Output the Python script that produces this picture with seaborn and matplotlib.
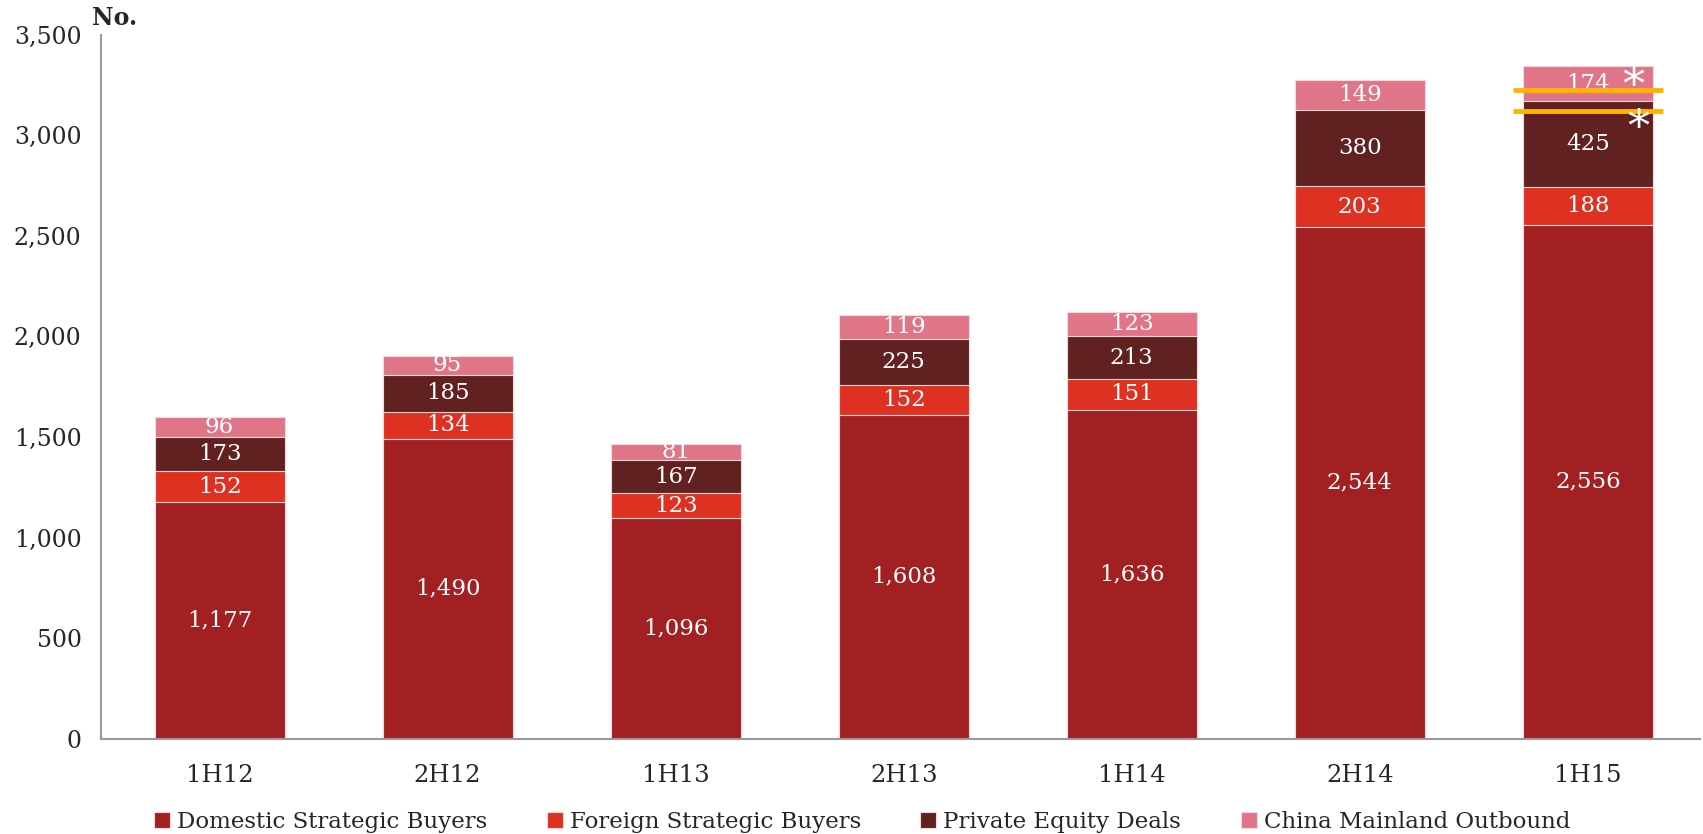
import numpy as np
import pandas as pd
import matplotlib
matplotlib.use("Agg")
import matplotlib.pyplot as plt
import seaborn as sns

periods = ["1H12", "2H12", "1H13", "2H13", "1H14", "2H14", "1H15"]
domestic = [1177, 1490, 1096, 1608, 1636, 2544, 2556]
foreign = [152, 134, 123, 152, 151, 203, 188]
private_equity = [173, 185, 167, 225, 213, 380, 425]
outbound = [96, 95, 81, 119, 123, 149, 174]

series_names = ["Domestic Strategic Buyers", "Foreign Strategic Buyers",
                "Private Equity Deals", "China Mainland Outbound"]
series_values = [domestic, foreign, private_equity, outbound]
colors = ["#A21F22", "#DE3121", "#612120", "#E07588"]

sns.set_theme(style="white")
plt.rcParams["font.family"] = ["DejaVu Serif"]

fig = plt.figure(figsize=(17.03, 8.34), dpi=100)
ax = fig.add_axes([0.0593, 0.1144, 0.9387, 0.8439])

vals = np.array(series_values, dtype=float)
cum = np.cumsum(vals, axis=0)

# draw cumulative layers from top down
for i in range(len(series_names) - 1, -1, -1):
    df = pd.DataFrame({"period": periods, "value": cum[i]})
    sns.barplot(data=df, x="period", y="value", order=periods, color=colors[i],
                width=0.57, edgecolor="#F3D9D9", linewidth=0.8, ax=ax,
                saturation=1, label=series_names[i])

# value labels
for i in range(len(series_names)):
    for j, p in enumerate(periods):
        bottom = cum[i][j] - vals[i][j]
        ax.text(j, bottom + vals[i][j] / 2, f"{int(vals[i][j]):,}", ha="center",
                va="center", color="white", fontsize=16.5)

# annotation marks on the last bar
ax.plot([6 - 0.33, 6 + 0.33], [3225, 3225], color="#FFB400", lw=3.5, solid_capstyle="butt", zorder=5)
ax.plot([6 - 0.33, 6 + 0.33], [3120, 3120], color="#FFB400", lw=3.5, solid_capstyle="butt", zorder=5)
ax.text(6 + 0.20, 3345, "*", color="white", fontsize=32, ha="center", va="top", zorder=6)
ax.text(6 + 0.22, 3135, "*", color="white", fontsize=32, ha="center", va="top", zorder=6)

ax.set_ylim(0, 3500)
ax.set_xlim(-0.52, 6.49)
ax.set_yticks(range(0, 3501, 500))
ax.set_yticklabels([f"{v:,}" for v in range(0, 3501, 500)])
ax.set_xlabel("")
ax.set_ylabel("")
ax.tick_params(axis="y", length=5, width=1, color="#999999", direction="out", pad=9, labelsize=17)
ax.tick_params(axis="x", length=0, pad=18, labelsize=17.5)
for s in ["top", "right"]:
    ax.spines[s].set_visible(False)
for s in ["left", "bottom"]:
    ax.spines[s].set_color("#999999")
    ax.spines[s].set_linewidth(1.5)

fig.text(0.054, 0.978, "No.", fontsize=17, fontweight="bold", va="center", ha="left")

h, l = ax.get_legend_handles_labels()
order = [l.index(n) for n in series_names]
ax.legend([h[k] for k in order], [l[k] for k in order], loc="center",
          bbox_to_anchor=(0.476, -0.118), ncol=4, frameon=False, fontsize=16.5,
          handlelength=0.7, handleheight=0.7, handletextpad=0.3, columnspacing=2.6)

fig.savefig("out.png", dpi=100)
